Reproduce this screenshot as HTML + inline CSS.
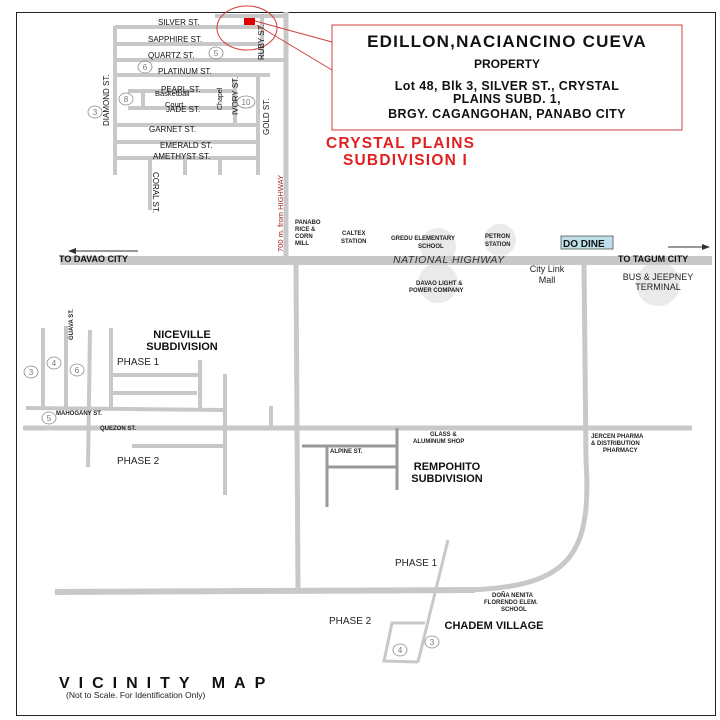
<!DOCTYPE html>
<html><head><style>
html,body{margin:0;padding:0;background:#fff;}
svg{display:block;font-family:"Liberation Sans",Arial,sans-serif;}
</style></head><body>
<svg width="720" height="720" viewBox="0 0 720 720" xmlns="http://www.w3.org/2000/svg">
<rect x="0" y="0" width="720" height="720" fill="#fff"/>
<rect x="16.5" y="12.5" width="699" height="703" fill="none" stroke="#222" stroke-width="1"/>

<g stroke="#c8c8c8" stroke-width="4" fill="none">
<line x1="215" y1="16" x2="285" y2="16"/>
<line x1="115" y1="27" x2="262" y2="27"/>
<line x1="115" y1="44" x2="262" y2="44"/>
<line x1="115" y1="60" x2="285" y2="60"/>
<line x1="115" y1="75" x2="270" y2="75"/>
<line x1="128" y1="91" x2="235" y2="91"/>
<line x1="128" y1="108" x2="235" y2="108"/>
<line x1="115" y1="125" x2="258" y2="125"/>
<line x1="115" y1="142" x2="258" y2="142"/>
<line x1="115" y1="158" x2="258" y2="158"/>
<line x1="115" y1="26" x2="115" y2="175"/>
<line x1="262" y1="16" x2="262" y2="60"/>
<line x1="258" y1="77" x2="258" y2="175"/>
<line x1="235" y1="79" x2="235" y2="125"/>
<line x1="143" y1="91" x2="143" y2="108"/>
<line x1="150" y1="158" x2="150" y2="210"/>
<line x1="185" y1="158" x2="185" y2="175"/>
<line x1="220" y1="158" x2="220" y2="175"/>
</g>
<line x1="286" y1="12" x2="286" y2="262" stroke="#c8c8c8" stroke-width="5"/>
<rect x="244" y="18" width="11" height="7" fill="#e00000"/>
<ellipse cx="247" cy="28" rx="30" ry="22" fill="none" stroke="#d04040" stroke-width="1"/>
<line x1="255" y1="21" x2="332" y2="42" stroke="#d04040" stroke-width="1"/>
<line x1="257" y1="25" x2="332" y2="70" stroke="#d04040" stroke-width="1"/>

<g font-size="8" fill="#111">
<text x="158" y="25">SILVER  ST.</text>
<text x="148" y="42">SAPPHIRE  ST.</text>
<text x="148" y="58">QUARTZ  ST.</text>
<text x="158" y="74">PLATINUM  ST.</text>
<text x="161" y="92">PEARL  ST.</text>
<text x="166" y="112">JADE  ST.</text>
<text x="149" y="132">GARNET  ST.</text>
<text x="160" y="148">EMERALD  ST.</text>
<text x="153" y="159">AMETHYST  ST.</text>
<text x="155" y="96" font-size="7.5">Basketball</text>
<text x="165" y="107" font-size="7.5">Court</text>
<text transform="translate(109,126) rotate(-90)">DIAMOND  ST.</text>
<text transform="translate(264,60) rotate(-90)">RUBY  ST.</text>
<text transform="translate(269,135) rotate(-90)">GOLD  ST.</text>
<text transform="translate(238,115) rotate(-90)">IVORY  ST.</text>
<text transform="translate(222,110) rotate(-90)" font-size="7">Chapel</text>
<text transform="translate(153,172) rotate(90)">CORAL  ST.</text>
<text transform="translate(283,252) rotate(-90)" font-size="7.5" fill="#a02020">700 m. from HIGHWAY</text>
</g>
<g fill="none" stroke="#888" stroke-width="0.8">
<ellipse cx="216" cy="53" rx="7" ry="6"/>
<ellipse cx="145" cy="67" rx="7" ry="6"/>
<ellipse cx="126" cy="99" rx="7" ry="6"/>
<ellipse cx="95" cy="112" rx="7" ry="6"/>
<ellipse cx="246" cy="102" rx="9" ry="6"/>
</g>
<g font-size="8" fill="#777" text-anchor="middle">
<text x="216" y="56">5</text><text x="145" y="70">6</text><text x="126" y="102">8</text><text x="95" y="115">3</text><text x="246" y="105">10</text>
</g>

<rect x="332" y="25" width="350" height="105" fill="#fff" stroke="#d04040" stroke-width="1"/>
<g font-weight="bold" fill="#111" text-anchor="middle">
<text x="507" y="47" font-size="17" letter-spacing="1.2">EDILLON,NACIANCINO CUEVA</text>
<text x="507" y="68" font-size="12">PROPERTY</text>
<text x="507" y="90" font-size="12.5" letter-spacing="0.4">Lot 48, Blk 3, SILVER ST., CRYSTAL</text>
<text x="507" y="103" font-size="12.5" letter-spacing="0.4">PLAINS SUBD. 1,</text>
<text x="507" y="118" font-size="12.5" letter-spacing="0.4">BRGY. CAGANGOHAN, PANABO CITY</text>
</g>
<g font-weight="bold" fill="#e02020" font-size="15.5" letter-spacing="1.2">
<text x="326" y="148">CRYSTAL PLAINS</text>
<text x="343" y="165">SUBDIVISION I</text>
</g>

<circle cx="438" cy="246" r="18" fill="#eaeaea"/>
<circle cx="500" cy="240" r="16" fill="#eaeaea"/>
<circle cx="438" cy="283" r="20" fill="#eaeaea"/>
<circle cx="658" cy="284" r="22" fill="#eaeaea"/>
<rect x="60" y="256" width="652" height="9" fill="#c8c8c8"/>
<line x1="296" y1="262" x2="298" y2="590" stroke="#c8c8c8" stroke-width="5"/>
<path d="M584,262 L586,460 C592,555 570,586 470,590" fill="none" stroke="#c8c8c8" stroke-width="5"/>
<line x1="55" y1="592" x2="475" y2="590" stroke="#c8c8c8" stroke-width="6"/>
<text x="393" y="263" font-size="10.5" font-style="italic" fill="#333" letter-spacing="0.5">NATIONAL HIGHWAY</text>
<rect x="561" y="236" width="52" height="13" fill="#bfe0ea" stroke="#555" stroke-width="0.8"/>
<text x="563" y="247" font-size="10" font-weight="bold" fill="#111">DO DINE</text>
<g font-size="9" font-weight="bold" fill="#111">
<text x="59" y="262">TO DAVAO CITY</text>
<text x="618" y="262">TO TAGUM CITY</text>
</g>
<line x1="72" y1="251" x2="138" y2="251" stroke="#333" stroke-width="1"/>
<polygon points="68,251 76,248 76,254" fill="#333"/>
<line x1="668" y1="247" x2="706" y2="247" stroke="#333" stroke-width="1"/>
<polygon points="710,247 702,244 702,250" fill="#333"/>
<g font-size="6" font-weight="bold" fill="#222">
<text x="295" y="224">PANABO</text><text x="295" y="231">RICE &amp;</text><text x="295" y="238">CORN</text><text x="295" y="245">MILL</text>
<text x="342" y="235">CALTEX</text><text x="341" y="243">STATION</text>
<text x="391" y="240">GREDU ELEMENTARY</text><text x="418" y="248">SCHOOL</text>
<text x="485" y="238">PETRON</text><text x="485" y="246">STATION</text>
<text x="416" y="285">DAVAO LIGHT &amp;</text><text x="409" y="292">POWER COMPANY</text>
</g>
<g font-size="9" fill="#222" text-anchor="middle">
<text x="547" y="272">City Link</text><text x="547" y="283">Mall</text>
<text x="658" y="280">BUS &amp; JEEPNEY</text><text x="658" y="290">TERMINAL</text>
</g>

<g stroke="#c8c8c8" stroke-width="4" fill="none">
<line x1="43" y1="328" x2="43" y2="408"/>
<line x1="66" y1="326" x2="66" y2="408"/>
<line x1="90" y1="330" x2="88" y2="467"/>
<line x1="111" y1="328" x2="111" y2="408"/>
<line x1="112" y1="375" x2="200" y2="375"/>
<line x1="112" y1="393" x2="197" y2="393"/>
<line x1="200" y1="360" x2="200" y2="408"/>
<line x1="26" y1="408" x2="223" y2="410"/>
<line x1="225" y1="374" x2="225" y2="495"/>
<line x1="132" y1="446" x2="223" y2="446"/>
<line x1="271" y1="406" x2="271" y2="427"/>
</g>
<line x1="23" y1="428" x2="692" y2="428" stroke="#c8c8c8" stroke-width="5"/>
<g font-size="6" font-weight="bold" fill="#222">
<text x="56" y="415">MAHOGANY ST.</text>
<text x="100" y="430">QUEZON ST.</text>
<text transform="translate(73,340) rotate(-90)">GUAVA ST.</text>
</g>
<g fill="none" stroke="#888" stroke-width="0.8">
<ellipse cx="31" cy="372" rx="7" ry="6"/><ellipse cx="54" cy="363" rx="7" ry="6"/>
<ellipse cx="77" cy="370" rx="7" ry="6"/><ellipse cx="49" cy="418" rx="7" ry="6"/>
</g>
<g font-size="8" fill="#777" text-anchor="middle">
<text x="31" y="375">3</text><text x="54" y="366">4</text><text x="77" y="373">6</text><text x="49" y="421">5</text>
</g>
<g font-size="11" font-weight="bold" fill="#111" text-anchor="middle">
<text x="182" y="338">NICEVILLE</text><text x="182" y="350">SUBDIVISION</text>
</g>
<g font-size="10" fill="#222">
<text x="117" y="365">PHASE 1</text>
<text x="117" y="464">PHASE 2</text>
</g>

<g stroke="#999" stroke-width="3" fill="none">
<line x1="397" y1="428" x2="397" y2="490"/>
<line x1="302" y1="446" x2="397" y2="446"/>
<line x1="327" y1="446" x2="327" y2="507"/>
<line x1="327" y1="467" x2="397" y2="467"/>
</g>
<g font-size="6" font-weight="bold" fill="#222">
<text x="330" y="453">ALPINE ST.</text>
<text x="430" y="436">GLASS &amp;</text><text x="413" y="443">ALUMINUM SHOP</text>
<text x="591" y="438">JERCEN PHARMA</text><text x="591" y="445">&amp; DISTRIBUTION</text><text x="603" y="452">PHARMACY</text>
<text x="492" y="597">DOÑA NENITA</text><text x="484" y="604">FLORENDO ELEM.</text><text x="501" y="611">SCHOOL</text>
</g>
<g font-size="11" font-weight="bold" fill="#111" text-anchor="middle">
<text x="447" y="470">REMPOHITO</text><text x="447" y="482">SUBDIVISION</text>
<text x="494" y="629">CHADEM VILLAGE</text>
</g>

<g stroke="#c8c8c8" stroke-width="3" fill="none">
<line x1="448" y1="540" x2="418" y2="662"/>
<polyline points="425,623 392,623 384,661 418,662"/>
</g>
<g font-size="10" fill="#222">
<text x="395" y="566">PHASE 1</text>
<text x="329" y="624">PHASE 2</text>
</g>
<g fill="none" stroke="#888" stroke-width="0.8">
<ellipse cx="400" cy="650" rx="7" ry="6"/><ellipse cx="432" cy="642" rx="7" ry="6"/>
</g>
<g font-size="8" fill="#777" text-anchor="middle">
<text x="400" y="653">4</text><text x="432" y="645">3</text>
</g>

<text x="59" y="688" font-size="16" font-weight="bold" fill="#111" letter-spacing="9">VICINITY MAP</text>
<text x="66" y="698" font-size="8.5" fill="#222">(Not to Scale. For Identification Only)</text>
</svg>
</body></html>
